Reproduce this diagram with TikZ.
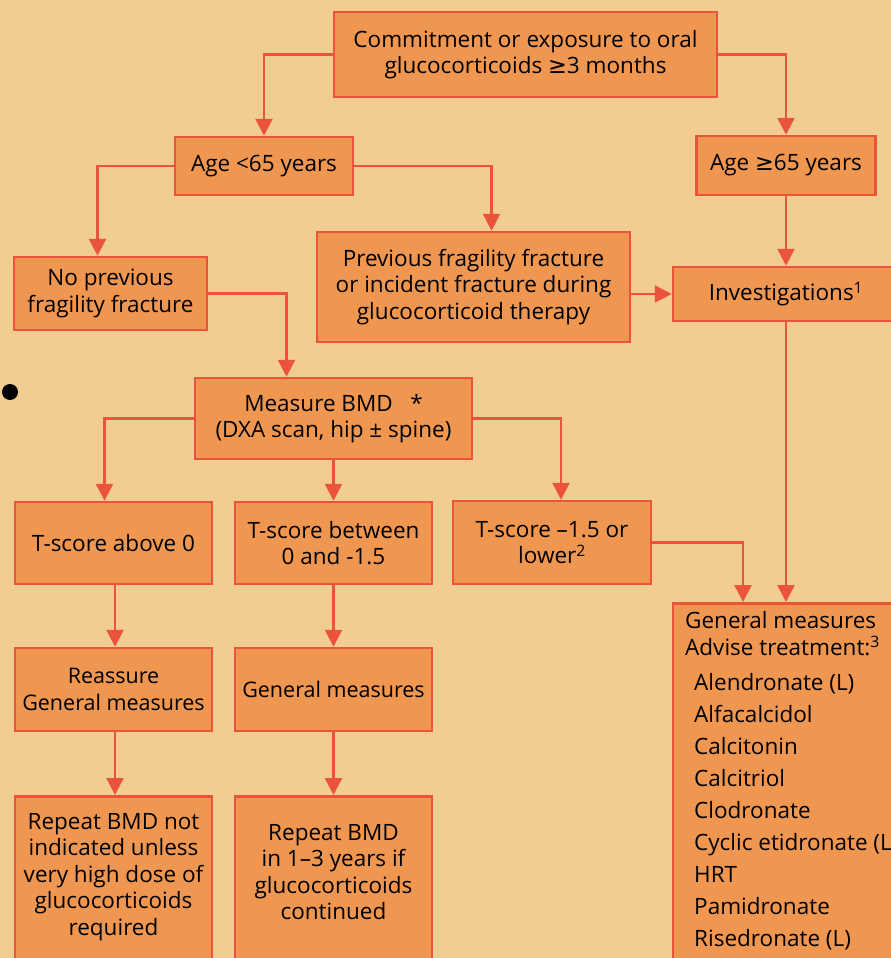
\documentclass[tikz,border=0pt]{standalone}
\usepackage{fontspec}
\setmainfont{Open Sans}
\newfontfamily\symfont{DejaVu Sans}
\usetikzlibrary{arrows.meta}

\definecolor{paper}{RGB}{241,205,146}
\definecolor{boxfill}{RGB}{239,150,80}
\definecolor{boxline}{RGB}{234,84,58}

\newcommand{\gte}{{\symfont ≥}}

\tikzset{
  box/.style={draw=boxline, fill=boxfill, line width=2.5pt, align=center, inner sep=0pt},
  boxtext/.style={align=center, inner sep=0pt, font=\fontsize{22.5}{26.5}\selectfont},
  flow/.style={draw=boxline, line width=2.5pt, -{Triangle[length=17pt,width=17pt]}},
}

\begin{document}
\begin{tikzpicture}[x=1pt, y=-1pt, font=\fontsize{22.5}{26.5}\selectfont]

      \path[use as bounding box, fill=paper] (0,0) rectangle (891,958);
      \clip (0,0) rectangle (891,958);

      \fill (10,392) circle (8pt);

      \begin{scope}[every node/.style={box}]
        \node[minimum width=383pt, minimum height=85pt]  (top)      at (525.5,54.5) {Commitment or exposure to oral\\glucocorticoids \gte3 months};
        \node[minimum width=178pt, minimum height=58pt]  (young)    at (264,166)    {Age <65 years};
        \node[minimum width=179pt, minimum height=59pt]  (old)      at (786,165.5)  {Age \gte65 years};
        \node[minimum width=193pt, minimum height=73pt]  (nofrac)   at (110.5,293.5) {No previous\\fragility fracture};
        \node[minimum width=313pt, minimum height=110pt] (prevfrac) at (473.5,287)  {Previous fragility fracture\\or incident fracture during\\glucocorticoid therapy};
        \node[minimum width=226pt, minimum height=54pt]  (invest)   at (786,294)    {Investigations\textsuperscript{1}};
        \node[minimum width=277pt, minimum height=81pt]  (bmd)      at (333.5,418.5) {Measure BMD \ \ *\\(DXA scan, hip ± spine)};
        \node[minimum width=197pt, minimum height=82pt]  (tabove)   at (113.5,543)  {T-score above 0};
        \node[minimum width=197pt, minimum height=82pt]  (tbetween) at (333.5,543)  {T-score between\\0 and -1.5};
        \node[minimum width=198pt, minimum height=83pt]  (tlower)   at (552,542.5)  {T-score –1.5 or\\lower\textsuperscript{2}};
        \node[minimum width=197pt, minimum height=83pt, font=\fontsize{21.5}{26.5}\selectfont] (reassure) at (113.5,689.5) {Reassure\\General measures};
        \node[minimum width=197pt, minimum height=83pt, font=\fontsize{21.5}{26.5}\selectfont] (general)  at (333.5,689.5) {General measures};
        \node[minimum width=197pt, minimum height=200pt, anchor=north] (norepeat) at (113.5,795) {};
        \node[minimum width=197pt, minimum height=200pt, anchor=north] (repeat)   at (333.5,795) {};
        \node[minimum width=226pt, minimum height=400pt, anchor=north] (treat)    at (786,602)   {};
      \end{scope}

      % texts of the boxes that run off the page
      \node[boxtext] (norepeattxt) at (113.5,877) {Repeat BMD not\\indicated unless\\very high dose of\\glucocorticoids\\required};
      \node[boxtext] (repeattxt)   at (333.5,872) {Repeat BMD\\in 1–3 years if\\glucocorticoids\\continued};
      \node[anchor=north west, align=left, inner sep=0pt, font=\fontsize{22.5}{32}\selectfont] (treattxt) at (685,611)
        {General measures\\[-5pt]
         Advise treatment:\textsuperscript{3}\\[3pt]
         \hspace{9pt}Alendronate (L)\\
         \hspace{9pt}Alfacalcidol\\
         \hspace{9pt}Calcitonin\\
         \hspace{9pt}Calcitriol\\
         \hspace{9pt}Clodronate\\
         \hspace{9pt}Cyclic etidronate (L)\\
         \hspace{9pt}HRT\\
         \hspace{9pt}Pamidronate\\
         \hspace{9pt}Risedronate (L)};

      \begin{scope}[every path/.style={flow}]
        \path (top.west)  -| (young.north);
        \path (top.east)  -| (old.north);
        \path (young.west) -| ([xshift=-13pt]nofrac.north);
        \path (young.east) -| ([xshift=18pt]prevfrac.north);
        \path (old.south) -- (invest.north);
        \path (prevfrac.east |- invest.west) -- (invest.west);
        \path (nofrac.east) -| ([xshift=-47pt]bmd.north);
        \path (bmd.west)  -| ([xshift=-9pt]tabove.north);
        \path (bmd.south) -- (tbetween.north);
        \path (bmd.east)  -| ([xshift=9pt]tlower.north);
        \path (tlower.east) -| ([xshift=-43pt]treat.north);
        \path (invest.south) -- (treat.north);
        \path ([xshift=1.5pt]tabove.south) -- ([xshift=1.5pt]reassure.north);
        \path ([xshift=1.5pt]reassure.south) -- ([xshift=1.5pt]norepeat.north);
        \path (tbetween.south) -- (general.north);
        \path (general.south) -- (repeat.north);
      \end{scope}

    \end{tikzpicture}
\end{document}
